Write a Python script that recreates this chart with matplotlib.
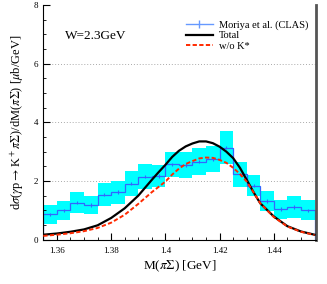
import matplotlib
matplotlib.use('Agg')
import matplotlib.pyplot as plt
import numpy as np
from matplotlib.ticker import MultipleLocator
from matplotlib.lines import Line2D

plt.rcParams['font.family'] = ['Liberation Serif', 'DejaVu Serif']
plt.rcParams['mathtext.fontset'] = 'stix'

# CLAS data (Moriya et al.), bins of 5 MeV
bin_edges = [1.355, 1.36, 1.365, 1.37, 1.375, 1.38, 1.385, 1.39, 1.395, 1.40, 1.405,
             1.41, 1.415, 1.42, 1.425, 1.43, 1.435, 1.44, 1.445, 1.45, 1.455]
data_val = [0.86, 1.00, 1.26, 1.18, 1.54, 1.62, 1.91, 2.15, 2.17, 2.57,
            2.55, 2.66, 2.75, 3.14, 2.23, 1.84, 1.32, 1.04, 1.12, 1.00]
data_sys = [0.33, 0.32, 0.36, 0.32, 0.39, 0.39, 0.42, 0.43, 0.38, 0.43,
            0.43, 0.47, 0.45, 0.56, 0.42, 0.35, 0.33, 0.33, 0.37, 0.34]
data_stat = [0.06] * 20

# model curves
m_curve = [1.355, 1.36, 1.365, 1.37, 1.375, 1.38, 1.385, 1.39, 1.395, 1.3975, 1.40,
           1.4025, 1.405, 1.4075, 1.41, 1.4125, 1.415, 1.4175, 1.42, 1.4225, 1.425,
           1.4275, 1.43, 1.4325, 1.435, 1.44, 1.445, 1.45, 1.455]
total = [0.17, 0.21, 0.27, 0.35, 0.49, 0.74, 1.07, 1.50, 2.04, 2.30, 2.55,
         2.82, 3.03, 3.18, 3.28, 3.35, 3.35, 3.29, 3.17, 3.00, 2.78,
         2.45, 2.04, 1.62, 1.24, 0.79, 0.46, 0.28, 0.17]
no_kstar = [0.13, 0.17, 0.22, 0.29, 0.40, 0.58, 0.85, 1.22, 1.62, 1.80, 1.98,
            2.22, 2.42, 2.58, 2.68, 2.77, 2.80, 2.79, 2.72, 2.62, 2.45,
            2.24, 1.98, 1.62, 1.24, 0.77, 0.45, 0.27, 0.16]

fig = plt.figure(figsize=(3.27, 2.84), dpi=100)
ax = fig.add_axes([0.1325, 0.156, 0.8335, 0.8264])

edges = np.array(bin_edges)
vals = np.array(data_val)
sys = np.array(data_sys)
centers = 0.5 * (edges[:-1] + edges[1:])

ax.bar(edges[:-1], 2 * sys, bottom=vals - sys, width=np.diff(edges), align='edge',
       color='#00ffff', linewidth=0, zorder=1)
ax.stairs(vals, edges, color='#3366ff', linewidth=0.9, zorder=2)
ax.errorbar(centers, vals, yerr=data_stat, fmt='none', ecolor='#3366ff',
            elinewidth=0.8, zorder=2)

ax.plot(m_curve, total, color='black', linewidth=1.6, zorder=3)
ax.plot(m_curve, no_kstar, color='#ff2a00', linewidth=1.4, linestyle=(0, (2.2, 1.2)), zorder=4)

ax.set_xlim(1.355, 1.4555)
ax.set_ylim(0, 8)
for y in [2, 4, 6]:
    ax.axhline(y, color='#aaaaaa', linewidth=0.7, linestyle=(0, (1, 2)), zorder=0)

ax.xaxis.set_major_locator(MultipleLocator(0.02))
ax.xaxis.set_minor_locator(MultipleLocator(0.005))
ax.yaxis.set_major_locator(MultipleLocator(2))
ax.yaxis.set_minor_locator(MultipleLocator(0.5))
ax.set_xticks([1.36, 1.38, 1.40, 1.42, 1.44])
ax.set_xticklabels(['1.36', '1.38', '1.4', '1.42', '1.44'])
ax.tick_params(which='both', direction='in', labelsize=6.5, top=False, right=False)
ax.tick_params(which='major', length=5, width=0.8)
ax.tick_params(which='minor', length=2.5, width=0.6)
ax.tick_params(axis='x', pad=5)

ax.spines['top'].set_visible(False)
ax.spines['right'].set_color('#555555')
ax.spines['right'].set_linewidth(2)
ax.spines['left'].set_linewidth(0.8)
ax.spines['bottom'].set_linewidth(0.8)

ax.set_xlabel(r'M($\pi\Sigma$) [GeV]', fontsize=9.5, labelpad=3)
ax.set_ylabel(r'd$\sigma$($\gamma$p$\rightarrow$K$^+\pi\Sigma$)/dM($\pi\Sigma$) [$\mu$b/GeV]',
              fontsize=9, labelpad=6)

ax.text(0.08, 0.855, 'W=2.3GeV', transform=ax.transAxes, fontsize=9.5)

handles = [
    Line2D([], [], color='#6699ff', linewidth=1, marker='|', markersize=6),
    Line2D([], [], color='black', linewidth=1.6),
    Line2D([], [], color='#ff2a00', linewidth=1.4, linestyle=(0, (2.2, 1.2))),
]
ax.legend(handles, ['Moriya et al. (CLAS)', 'Total', 'w/o K*'], loc='upper right',
          bbox_to_anchor=(1.0, 0.965), frameon=False, fontsize=7.5, handlelength=2.6,
          handletextpad=0.6, labelspacing=0.1, borderaxespad=0.3)

fig.savefig('out.png', dpi=100)
